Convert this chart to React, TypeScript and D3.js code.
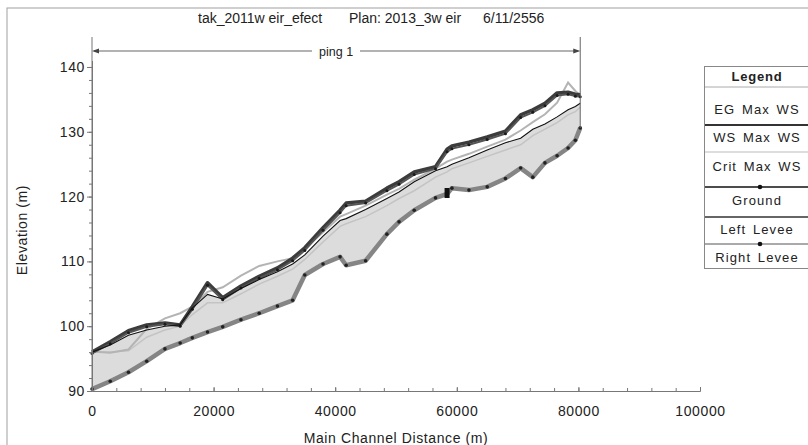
import React, { useEffect, useRef } from 'react';
import * as d3 from 'd3';

// river stations (main channel distance, m)
const stations = [0, 3000, 6000, 9000, 12000, 14500, 16500, 19000, 21500, 24500, 27500, 30500, 33000, 35000, 38000, 40800, 41800, 45000, 48500, 50500, 53000, 56500, 58400, 59200, 62000, 65000, 68000, 70500, 72500, 74500, 76500, 78300, 79500, 80300];

const ground = [90.3, 91.5, 92.9, 94.6, 96.5, 97.4, 98.2, 99.1, 99.9, 101.0, 102.0, 103.1, 104.0, 107.9, 109.6, 110.7, 109.4, 110.1, 114.2, 116.1, 117.9, 119.8, 120.4, 121.3, 121.0, 121.5, 122.8, 124.4, 123.0, 125.2, 126.3, 127.5, 128.7, 130.6];
const wsMaxWs = [96.0, 97.1, 98.6, 99.4, 100.0, 100.2, 102.8, 104.9, 104.2, 105.8, 107.2, 108.4, 109.6, 111.0, 113.9, 116.3, 116.6, 118.0, 119.7, 120.7, 122.3, 124.0, 124.6, 125.0, 126.0, 127.2, 128.3, 129.0, 130.4, 131.2, 132.3, 133.4, 133.9, 134.4];
const egMaxWs = [96.1, 95.9, 96.4, 99.6, 101.2, 102.0, 103.0, 105.3, 106.0, 107.8, 109.3, 110.0, 110.5, 112.0, 114.5, 116.9, 117.3, 118.6, 120.3, 121.2, 122.6, 124.3, 125.4, 125.7, 126.6, 127.7, 128.8, 130.2, 131.5, 132.7, 134.5, 137.6, 136.3, 135.6];
const critMaxWs = [96.0, 96.0, 96.2, 98.3, 99.4, 100.0, 101.8, 103.6, 103.6, 105.0, 106.5, 107.7, 108.8, 110.3, 113.0, 115.4, 115.8, 116.9, 118.6, 119.7, 120.9, 123.0, 123.8, 124.3, 125.2, 126.2, 127.2, 128.0, 129.4, 130.4, 131.4, 132.6, 133.1, 133.8];
const leftLevee = [96.0, 97.6, 99.3, 100.2, 100.5, 100.2, 103.0, 106.7, 104.4, 106.2, 107.7, 109.0, 110.5, 112.1, 115.2, 117.9, 119.0, 119.3, 121.3, 122.3, 123.8, 124.6, 127.3, 127.8, 128.4, 129.2, 130.1, 132.6, 133.4, 134.4, 136.0, 136.1, 135.8, 135.7];
const rightLevee = [95.8, 97.3, 99.0, 99.9, 100.3, 100.0, 102.6, 106.3, 104.1, 105.9, 107.4, 108.7, 110.1, 111.7, 114.8, 117.5, 118.6, 119.0, 120.9, 121.9, 123.4, 124.3, 126.9, 127.4, 128.0, 128.8, 129.7, 132.2, 133.0, 134.0, 135.6, 135.8, 135.5, 135.4];

const structureStations = [58400];

const xTicks = [0, 20000, 40000, 60000, 80000, 100000];
const yTicks = [90, 100, 110, 120, 130, 140];

const titleParts = ['tak_2011w eir_efect', 'Plan: 2013_3w eir', '6/11/2556'];
const reachName = 'ping 1';
const legendLabels = ['EG Max WS', 'WS Max WS', 'Crit Max WS', 'Ground', 'Left Levee', 'Right Levee'];

const FONT = '"Liberation Sans", Arial, sans-serif';

export default function App() {
    const ref = useRef<SVGSVGElement>(null);

    useEffect(() => {
        draw();
    }, []);

    const draw = () => {
        const svg = d3.select(ref.current);
        svg.selectAll('*').remove();

        const xScale = d3.scaleLinear().domain([0, 100000]).range([92, 700]);
        const yScale = d3.scaleLinear().domain([90, 141]).range([391, 60.5]);

        // outer frame
        svg.append('rect')
            .attr('x', 7).attr('y', 8).attr('width', 900).attr('height', 500)
            .attr('fill', 'white').attr('stroke', '#a0a0a0');

        // title
        const titleX = [198, 349, 483];
        titleParts.forEach((t, i) => {
            svg.append('text')
                .attr('x', titleX[i]).attr('y', 23)
                .style('font-family', FONT).style('font-size', '14px').style('fill', '#222')
                .text(t);
        });

        const lineOf = (vals: number[]) => d3.line<number>()
            .x((d, i) => xScale(stations[i]))
            .y(d => yScale(d))(vals);

        // water fill between ground and WS
        const area = d3.area<number>()
            .x((d, i) => xScale(stations[i]))
            .y0((d, i) => yScale(ground[i]))
            .y1(d => yScale(d));
        svg.append('path').attr('d', area(wsMaxWs)).attr('fill', '#dcdcdc').attr('stroke', 'none');

        svg.append('path').attr('d', lineOf(critMaxWs))
            .attr('fill', 'none').attr('stroke', '#c4c4c4').attr('stroke-width', 1.5);
        svg.append('path').attr('d', lineOf(egMaxWs))
            .attr('fill', 'none').attr('stroke', '#b4b4b4').attr('stroke-width', 2);

        // levees (dark band)
        svg.append('path').attr('d', lineOf(leftLevee))
            .attr('fill', 'none').attr('stroke', '#3c3c3c').attr('stroke-width', 3.5)
            .attr('stroke-linejoin', 'round');
        svg.append('path').attr('d', lineOf(rightLevee))
            .attr('fill', 'none').attr('stroke', '#555').attr('stroke-width', 2);
        svg.selectAll('.rl-dot').data(rightLevee).enter().append('circle')
            .attr('class', 'rl-dot')
            .attr('cx', (d, i) => xScale(stations[i])).attr('cy', d => yScale(d))
            .attr('r', 1.5).attr('fill', '#1a1a1a');

        // water surface
        svg.append('path').attr('d', lineOf(wsMaxWs))
            .attr('fill', 'none').attr('stroke', '#111').attr('stroke-width', 1.1);

        // ground
        svg.append('path').attr('d', lineOf(ground))
            .attr('fill', 'none').attr('stroke', '#858585').attr('stroke-width', 4.5)
            .attr('stroke-linejoin', 'round');
        svg.selectAll('.g-dot').data(ground).enter().append('circle')
            .attr('class', 'g-dot')
            .attr('cx', (d, i) => xScale(stations[i])).attr('cy', d => yScale(d))
            .attr('r', 1.8).attr('fill', '#222');

        // inline structure
        structureStations.forEach(s => {
            const i = stations.indexOf(s);
            svg.append('rect')
                .attr('x', xScale(s) - 2.5).attr('y', yScale(ground[i]) - 6)
                .attr('width', 5).attr('height', 10).attr('fill', '#111');
        });

        // axes
        const axisG = svg.append('g');
        axisG.append('g')
            .attr('transform', `translate(0, ${yScale(90)})`)
            .call(d3.axisBottom(xScale).tickValues(d3.range(0, 100001, 4000)).tickSize(-3).tickSizeOuter(0).tickFormat(() => ''));
        axisG.append('g')
            .attr('transform', `translate(0, ${yScale(90)})`)
            .call(d3.axisBottom(xScale).tickValues(xTicks).tickSize(-4).tickSizeOuter(0).tickPadding(15).tickFormat(d3.format('d')));
        axisG.append('g')
            .attr('transform', `translate(${xScale(0)}, 0)`)
            .call(d3.axisLeft(yScale).tickValues(d3.range(90, 141, 2)).tickSize(3).tickSizeOuter(0).tickFormat(() => ''));
        axisG.append('g')
            .attr('transform', `translate(${xScale(0)}, 0)`)
            .call(d3.axisLeft(yScale).tickValues(yTicks).tickSize(5).tickSizeOuter(0).tickPadding(2).tickFormat(d3.format('d')));
        axisG.selectAll('path, line').attr('stroke', '#777');
        axisG.selectAll('text')
            .style('font-family', FONT).style('font-size', '14px').style('letter-spacing', '0.6px').style('fill', '#222');

        svg.append('text')
            .attr('x', 396).attr('y', 443).attr('text-anchor', 'middle')
            .style('font-family', FONT).style('font-size', '14px').style('letter-spacing', '0.6px').style('fill', '#222')
            .text('Main Channel Distance (m)');
        svg.append('text')
            .attr('transform', 'translate(27, 230) rotate(-90)').attr('text-anchor', 'middle')
            .style('font-family', FONT).style('font-size', '14px').style('letter-spacing', '0.6px').style('fill', '#222')
            .text('Elevation (m)');

        // reach marker
        const x0 = xScale(stations[0]);
        const x1 = xScale(stations[stations.length - 1]);
        const my = 51;
        svg.append('line').attr('x1', x0).attr('x2', x0).attr('y1', 37).attr('y2', yScale(90)).attr('stroke', '#777');
        svg.append('line').attr('x1', x1).attr('x2', x1).attr('y1', 37)
            .attr('y2', yScale(ground[ground.length - 1])).attr('stroke', '#666');
        svg.append('line').attr('x1', x0 + 2).attr('x2', 312).attr('y1', my).attr('y2', my).attr('stroke', '#666');
        svg.append('line').attr('x1', 360).attr('x2', x1 - 2).attr('y1', my).attr('y2', my).attr('stroke', '#666');
        svg.append('path').attr('d', `M${x0},${my} l7,-2.5 v5 z`).attr('fill', '#444');
        svg.append('path').attr('d', `M${x1},${my} l-7,-2.5 v5 z`).attr('fill', '#444');
        svg.append('text')
            .attr('x', (x0 + x1) / 2).attr('y', my + 4.5).attr('text-anchor', 'middle')
            .style('font-family', FONT).style('font-size', '12.5px').style('fill', '#222')
            .text(reachName);

        // legend
        const lg = svg.append('g');
        lg.append('rect').attr('x', 704.5).attr('y', 66.5).attr('width', 120).attr('height', 202)
            .attr('fill', 'white').attr('stroke', '#888');
        lg.append('text').attr('x', 757).attr('y', 81).attr('text-anchor', 'middle')
            .style('font-family', FONT).style('font-size', '13px').style('font-weight', 'bold')
            .style('letter-spacing', '0.8px').style('fill', '#222')
            .text('Legend');
        const sampleY = [87, 125, 152, 187, 217, 244];
        const sampleStroke = ['#aaa', '#333', '#bbb', '#111', '#333', '#555'];
        const sampleWidth = [1, 2, 1, 1.5, 1.5, 1];
        const sampleDot = [false, false, false, true, false, true];
        const labelY = [114, 142, 171, 205, 234, 262];
        sampleY.forEach((y, i) => {
            lg.append('line').attr('x1', 705).attr('x2', 808).attr('y1', y).attr('y2', y)
                .attr('stroke', sampleStroke[i]).attr('stroke-width', sampleWidth[i]);
            if (sampleDot[i]) {
                lg.append('circle').attr('cx', 760).attr('cy', y).attr('r', 2.3).attr('fill', '#111');
            }
        });
        legendLabels.forEach((t, i) => {
            lg.append('text').attr('x', 757).attr('y', labelY[i]).attr('text-anchor', 'middle')
                .style('font-family', FONT).style('font-size', '13px').style('letter-spacing', '1.1px')
                .style('word-spacing', '2px').style('fill', '#222')
                .text(t);
        });
    };

    return (
        <svg ref={ref} width={808} height={445} style={{ position: 'absolute', left: 0, top: 0 }}></svg>
    );
}
